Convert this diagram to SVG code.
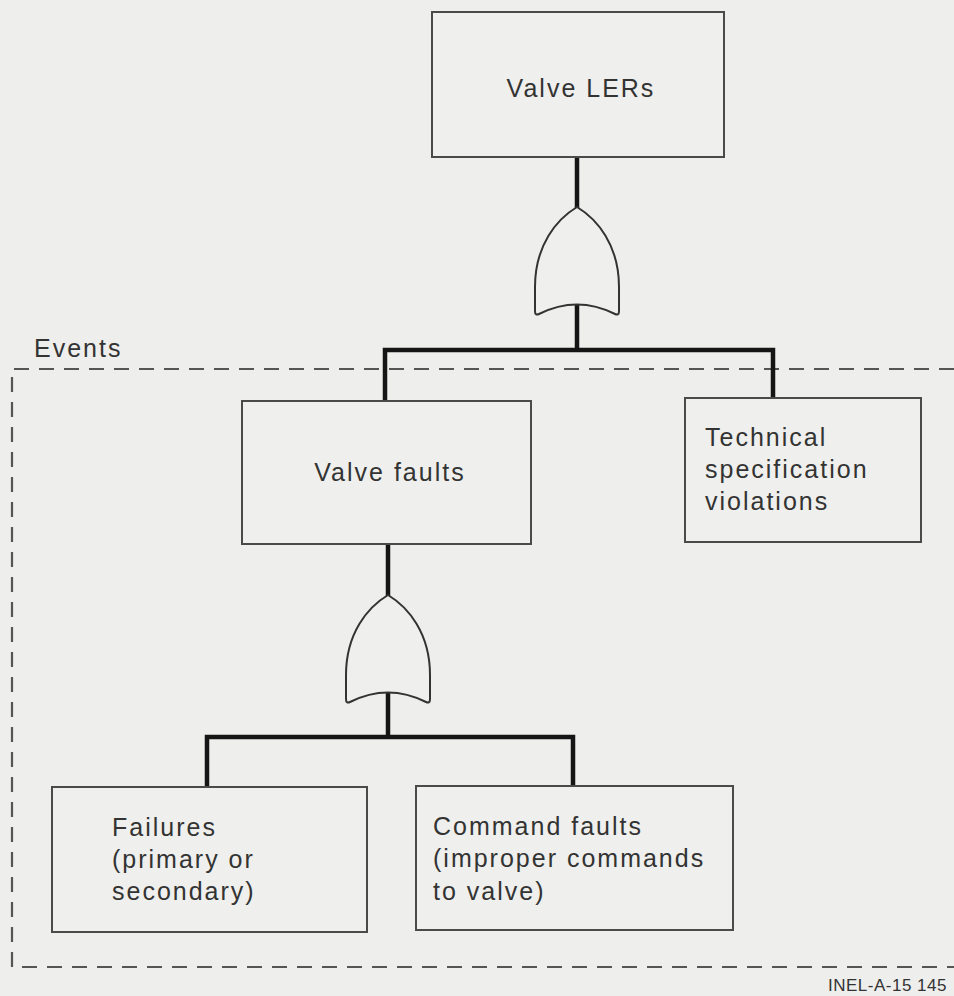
<svg xmlns="http://www.w3.org/2000/svg" width="954" height="996" viewBox="0 0 954 996">
<style>
.bg{fill:#eeeeec}
.box{fill:#efefed;stroke:#4a4a4a;stroke-width:2}
.wire{fill:none;stroke:#151515;stroke-width:4.5}
.gate{fill:#efefed;stroke:#333;stroke-width:2}
.dash{fill:none;stroke:#555;stroke-width:2.2;stroke-dasharray:15 10}
text{font-family:"Liberation Sans",Arial,sans-serif;font-size:25px;fill:#333;letter-spacing:2px}
.mid{text-anchor:middle}
.small{font-size:17px;letter-spacing:0.5px}
</style>
<defs>
<path id="orgate" d="M0,0 C20,12 42,38 42,80 L42,104 Q42,109 38,107 Q0,88 -38,107 Q-42,109 -42,104 L-42,80 C-42,38 -20,12 0,0 Z"/>
</defs>
<rect class="bg" x="0" y="0" width="954" height="996"/>
<g id="events-boundary">
<path class="dash" d="M954,369 L12,369 L12,967 L954,967"/>
<text x="34" y="357">Events</text>
</g>
<g id="connectors">
<line class="wire" x1="577" y1="157" x2="577" y2="208"/>
<line class="wire" x1="577" y1="300" x2="577" y2="350"/>
<polyline class="wire" points="385,401 385,350 773,350 773,398"/>
<line class="wire" x1="388" y1="544" x2="388" y2="596"/>
<line class="wire" x1="388" y1="688" x2="388" y2="737"/>
<polyline class="wire" points="207,787 207,737 573,737 573,786"/>
</g>
<g id="valve-lers">
<rect class="box" x="432" y="12" width="292" height="145"/>
<text class="mid" x="581" y="97">Valve LERs</text>
</g>
<g id="or-gate-1">
<use href="#orgate" class="gate" transform="translate(577,207)"/>
</g>
<g id="valve-faults">
<rect class="box" x="242" y="401" width="289" height="143"/>
<text class="mid" x="390" y="481">Valve faults</text>
</g>
<g id="tech-spec">
<rect class="box" x="685" y="398" width="236" height="144"/>
<text x="705" y="446">Technical</text>
<text x="705" y="478">specification</text>
<text x="705" y="510">violations</text>
</g>
<g id="or-gate-2">
<use href="#orgate" class="gate" transform="translate(388,595)"/>
</g>
<g id="failures">
<rect class="box" x="52" y="787" width="315" height="145"/>
<text x="112" y="836">Failures</text>
<text x="112" y="868">(primary or</text>
<text x="112" y="900">secondary)</text>
</g>
<g id="command-faults">
<rect class="box" x="416" y="786" width="317" height="144"/>
<text x="433" y="835">Command faults</text>
<text x="433" y="867">(improper commands</text>
<text x="433" y="900">to valve)</text>
</g>
<text class="small" x="828" y="991">INEL-A-15 145</text>
</svg>
